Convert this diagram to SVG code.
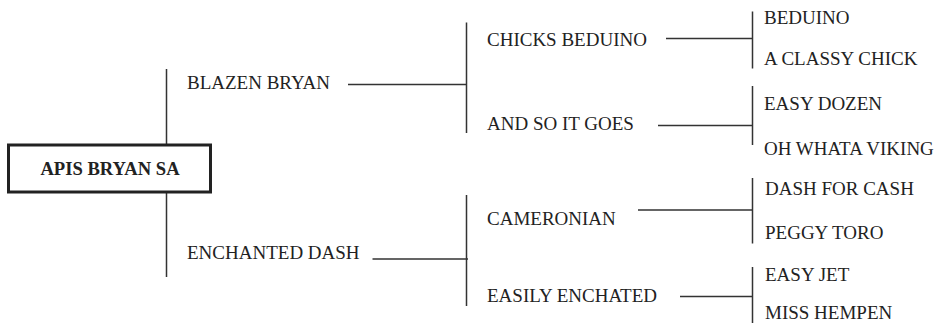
<svg xmlns="http://www.w3.org/2000/svg" width="939" height="323" viewBox="0 0 939 323">
<style>
text{font-family:"Liberation Serif","Times New Roman",serif;font-size:19px;fill:#222}
.root{font-weight:bold;font-size:18.6px;text-anchor:middle}
.ln{stroke:#333;stroke-width:1.5;fill:none}
</style>
<rect width="939" height="323" fill="#fff"/>
<g id="connectors">
<path class="ln" d="M166.5 69V144M166.5 193V277"/>
<path class="ln" d="M348 84.5H466.5M466.5 22.5V133"/>
<path class="ln" d="M372.5 259H468M466.5 195V306"/>
<path class="ln" d="M666 38.5H752.5M752.5 11.5V68.5"/>
<path class="ln" d="M658 125.5H752.5M752.5 86V145"/>
<path class="ln" d="M638 210H752.5M752.5 178V243.5"/>
<path class="ln" d="M680 296.5H752.5M752.5 267V323"/>
</g>
<g id="n-apis"><rect x="8.5" y="145" width="202" height="47" fill="#fff" stroke="#222" stroke-width="3"/><text class="root" x="110" y="175">APIS BRYAN SA</text></g>
<g id="n-blazen"><text x="187" y="89">BLAZEN BRYAN</text></g>
<g id="n-enchanted"><text x="187" y="259">ENCHANTED DASH</text></g>
<g id="n-chicks"><text x="487" y="46">CHICKS BEDUINO</text></g>
<g id="n-andso"><text x="487" y="130">AND SO IT GOES</text></g>
<g id="n-cameronian"><text x="487" y="225">CAMERONIAN</text></g>
<g id="n-easily"><text x="487" y="301.5">EASILY ENCHATED</text></g>
<g id="n-beduino"><text x="764" y="24">BEDUINO</text></g>
<g id="n-classy"><text x="764" y="65">A CLASSY CHICK</text></g>
<g id="n-easydozen"><text x="764" y="110">EASY DOZEN</text></g>
<g id="n-viking"><text x="764" y="154.5">OH WHATA VIKING</text></g>
<g id="n-dash"><text x="765" y="195">DASH FOR CASH</text></g>
<g id="n-peggy"><text x="765" y="238.5">PEGGY TORO</text></g>
<g id="n-easyjet"><text x="765" y="281">EASY JET</text></g>
<g id="n-hempen"><text x="765" y="319">MISS HEMPEN</text></g>
</svg>
